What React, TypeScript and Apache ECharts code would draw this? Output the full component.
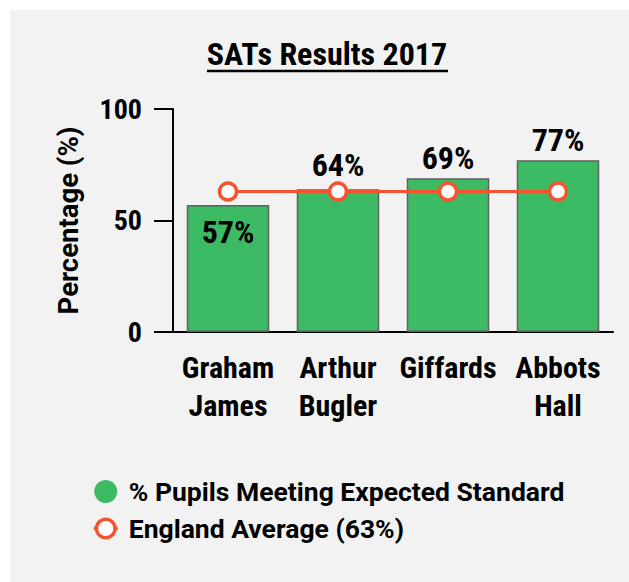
import React, { useEffect, useRef } from "react";
import * as echarts from "echarts";

const categories = ["Graham\nJames", "Arthur\nBugler", "Giffards", "Abbots\nHall"];
const pupilsMeeting = [57, 64, 69, 77];
const englandAverage = [63, 63, 63, 63];
const yTicks = [0, 50, 100];

const NARROW = "'Roboto Condensed', 'Liberation Sans Narrow', 'Arial Narrow', Roboto, sans-serif";
const WIDE = "Roboto, sans-serif";
const GREEN = "#3cba64";
const ORANGE = "#f5532f";

export default function App() {
  const ref = useRef<HTMLDivElement>(null);
  useEffect(() => {
    if (!ref.current) return;
    const chart = echarts.init(ref.current, undefined, { renderer: "svg" });
    chart.setOption({
      animation: false,
      backgroundColor: "#f2f2f2",
      textStyle: { fontFamily: NARROW, fontWeight: "bold", color: "#000" },
      graphic: [
        {
          type: "text",
          x: 317,
          y: 44,
          style: {
            text: "SATs Results 2017",
            fontFamily: NARROW,
            fontWeight: "bold",
            fontSize: 32,
            fill: "#000",
            align: "center",
            verticalAlign: "middle",
          },
        },
        {
          type: "line",
          shape: { x1: 197, y1: 61, x2: 438, y2: 61 },
          style: { stroke: "#000", lineWidth: 2.5 },
        },
      ],
      grid: { left: 163, right: 16, top: 99, bottom: 250 },
      legend: {
        orient: "vertical",
        left: 82,
        top: 468,
        padding: 0,
        itemWidth: 24,
        itemHeight: 23,
        itemGap: 10,
        textStyle: {
          fontFamily: WIDE,
          fontWeight: "bold",
          fontSize: 26.5,
          color: "#000",
          padding: [0, 0, 0, 6],
        },
        data: [
          { name: "% Pupils Meeting Expected Standard", icon: "circle", itemStyle: { color: GREEN, borderWidth: 0 } },
          {
            name: "England Average (63%)",
            itemStyle: { color: "#fff", borderColor: ORANGE, borderWidth: 3.5 },
            lineStyle: { color: ORANGE, width: 3.5 },
          },
        ],
      },
      xAxis: {
        type: "category",
        data: categories,
        axisLine: { lineStyle: { color: "#000", width: 2 } },
        axisTick: { alignWithLabel: true, length: 18, lineStyle: { color: "#000", width: 2 } },
        axisLabel: {
          interval: 0,
          fontFamily: NARROW,
          fontWeight: "bold",
          fontSize: 30,
          lineHeight: 38,
          color: "#000",
          margin: 16,
        },
      },
      yAxis: {
        type: "value",
        min: yTicks[0],
        max: yTicks[yTicks.length - 1],
        interval: 50,
        name: "Percentage (%)",
        nameLocation: "middle",
        nameGap: 91,
        nameTextStyle: { fontFamily: WIDE, fontWeight: "bold", fontSize: 27.5, color: "#000" },
        axisLine: { show: true, lineStyle: { color: "#000", width: 2 } },
        axisTick: { show: true, length: 19, lineStyle: { color: "#000", width: 2 } },
        axisLabel: { fontFamily: NARROW, fontWeight: "bold", fontSize: 28, color: "#000", margin: 31 },
        splitLine: { show: false },
      },
      series: [
        {
          name: "% Pupils Meeting Expected Standard",
          type: "bar",
          barWidth: "75%",
          data: pupilsMeeting.map((v, i) => ({
            value: v,
            label: i === 0 ? { position: "insideTop", distance: 11 } : { position: "top", distance: i === 1 ? 8 : 4 },
          })),
          itemStyle: { color: GREEN, borderColor: "#5f5f5f", borderWidth: 1.5 },
          label: {
            show: true,
            formatter: "{c}%",
            fontFamily: NARROW,
            fontWeight: "bold",
            fontSize: 32,
            color: "#000",
          },
          z: 1,
        },
        {
          name: "England Average (63%)",
          type: "line",
          data: englandAverage,
          symbol: "circle",
          symbolSize: 17,
          lineStyle: { color: ORANGE, width: 3 },
          itemStyle: { color: "#fff", borderColor: ORANGE, borderWidth: 3.5 },
          z: 3,
        },
      ],
    });
    return () => chart.dispose();
  }, []);
  return (
    <div
      ref={ref}
      style={{ position: "fixed", left: 10, top: 10, width: 619, height: 572 }}
    />
  );
}
